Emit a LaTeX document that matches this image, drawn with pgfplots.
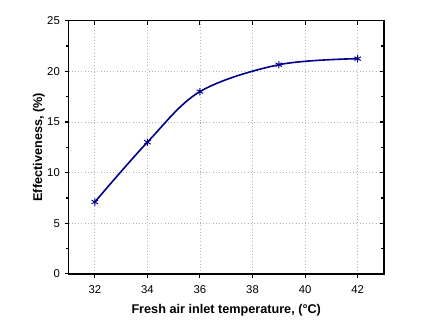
\documentclass[border=0pt]{standalone}
\usepackage{fontspec}
\setmainfont{Liberation Sans}
\usepackage{pgfplots}
\pgfplotsset{compat=1.18}
\definecolor{navyline}{RGB}{0,0,140}

\pgfplotsset{
  frame/.style={
    at={(0,0)}, anchor=south west,
    scale only axis,
    width=236.6pt, height=190pt,
    xmin=31, xmax=43,
    ymin=0, ymax=25,
    xtick={32,34,...,42},
    ytick={0,5,...,25},
    minor y tick num=1,
    major tick length=3pt,
    minor tick length=2pt,
    axis line style={line width=1pt},
    every tick/.style={black, line width=0.8pt},
  }
}

\begin{document}
\begin{tikzpicture}[x=1pt,y=1pt]
% page frame: 431 x 335 px at 0.75 pt/px
\path (-51.4,-45.75) rectangle (271.9,205.5);
\begin{axis}[
    frame,
    xtick pos=left, ytick pos=left,
    tick align=outside,
    grid=major,
    grid style={dotted, gray!60, line width=0.6pt},
    tick label style={font=\fontsize{8.5}{10}\selectfont},
    /pgf/number format/assume math mode=true,
    xlabel={\textbf{Fresh air inlet temperature, (°C)}},
    ylabel={\textbf{Effectiveness, (\%)}},
    label style={font=\fontsize{9.5}{11}\selectfont},
    xticklabel style={yshift=-2pt},
    xlabel style={yshift=-1pt},
    ylabel style={yshift=-5pt},
]
\addplot[navyline, line width=1.2pt, smooth, tension=0.55,
    mark=asterisk, mark size=2.8pt, mark options={line width=0.7pt}]
    coordinates {(32,7.1) (34,13.0) (36,18.0) (39,20.65) (42,21.25)};
\end{axis}
\begin{axis}[
    frame,
    xtick pos=right, ytick pos=right,
    tick align=inside,
    xticklabels={}, yticklabels={},
]
\end{axis}
\end{tikzpicture}
\end{document}
